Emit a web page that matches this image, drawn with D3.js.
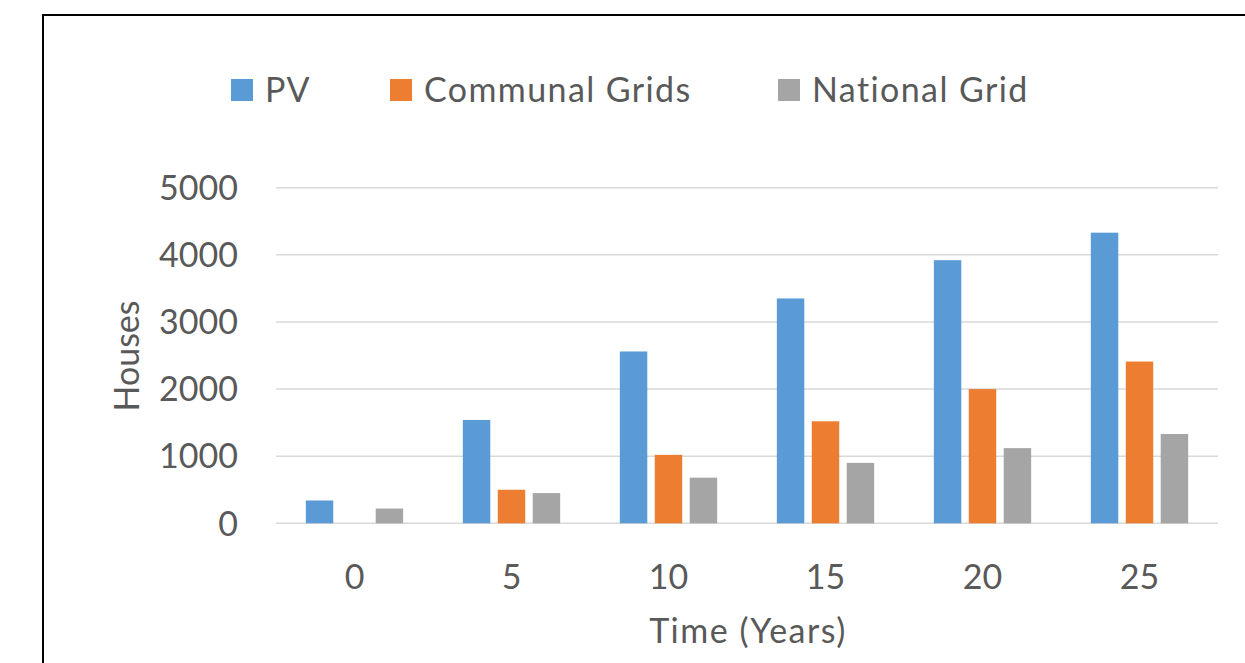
<!DOCTYPE html>
<html>
<head>
<meta charset="utf-8">
<script src="https://cdn.jsdelivr.net/npm/d3@7"></script>
<style>
  html, body { margin: 0; padding: 0; background: #fff; }
  svg { display: block; font-family: Lato, "Open Sans", sans-serif; }
</style>
</head>
<body>
<div id="chart"></div>
<script>
(function () {
    // Data
    const years = ["0", "5", "10", "15", "20", "25"];
    const seriesNames = ["PV", "Communal Grids", "National Grid"];
    const pvValues = [340, 1540, 2560, 3350, 3920, 4330];
    const communalValues = [0, 500, 1020, 1520, 2000, 2410];
    const nationalValues = [220, 450, 680, 900, 1120, 1330];
    const yTicks = [0, 1000, 2000, 3000, 4000, 5000];

    const colors = ["#5B9BD5", "#ED7D31", "#A5A5A5"];
    const textColor = "#595959";

    const width = 1245, height = 663;
    const plot = { left: 276, right: 1218, top: 187.7, bottom: 523.3 };

    const svg = d3.select("#chart").append("svg")
        .attr("width", width)
        .attr("height", height);

    // Chart frame (runs off the right and bottom of the picture)
    svg.append("rect")
        .attr("x", 43).attr("y", 15)
        .attr("width", 1300).attr("height", 800)
        .attr("fill", "#fff")
        .attr("stroke", "#000")
        .attr("stroke-width", 2);

    const x0 = d3.scaleBand()
        .domain(years)
        .range([plot.left, plot.right])
        .paddingInner(0.38)
        .paddingOuter(0.19);

    const x1 = d3.scaleBand()
        .domain(seriesNames)
        .range([0, x0.bandwidth()])
        .paddingInner(0.214);

    const y = d3.scaleLinear()
        .domain([0, 5000])
        .range([plot.bottom, plot.top]);

    // Gridlines
    svg.append("g")
        .selectAll("line")
        .data(yTicks)
        .enter()
        .append("line")
        .attr("x1", plot.left)
        .attr("x2", plot.right)
        .attr("y1", d => y(d))
        .attr("y2", d => y(d))
        .attr("stroke", "#D9D9D9")
        .attr("stroke-width", 1.5);

    // Y tick labels
    svg.append("g")
        .selectAll("text")
        .data(yTicks)
        .enter()
        .append("text")
        .attr("x", 238)
        .attr("y", d => y(d))
        .attr("dy", "0.36em")
        .attr("text-anchor", "end")
        .attr("font-size", 34)
        .attr("fill", textColor)
        .text(d => d);

    // Bars
    const table = years.map((yr, i) => ({
        year: yr,
        values: [pvValues[i], communalValues[i], nationalValues[i]]
    }));

    const groups = svg.append("g")
        .selectAll("g")
        .data(table)
        .enter()
        .append("g")
        .attr("transform", d => `translate(${x0(d.year)},0)`);

    groups.selectAll("rect")
        .data(d => d.values.map((v, k) => ({ name: seriesNames[k], value: v, k: k })))
        .enter()
        .filter(d => d.value > 0)
        .append("rect")
        .attr("x", d => x1(d.name))
        .attr("y", d => y(d.value))
        .attr("width", x1.bandwidth())
        .attr("height", d => y(0) - y(d.value))
        .attr("fill", d => colors[d.k]);

    // X tick labels
    svg.append("g")
        .selectAll("text")
        .data(years)
        .enter()
        .append("text")
        .attr("x", d => x0(d) + x0.bandwidth() / 2)
        .attr("y", 589)
        .attr("text-anchor", "middle")
        .attr("font-size", 34)
        .attr("fill", textColor)
        .text(d => d);

    // Axis titles
    svg.append("text")
        .attr("x", (plot.left + plot.right) / 2 + 1)
        .attr("y", 643)
        .attr("text-anchor", "middle")
        .attr("font-size", 34)
        .attr("letter-spacing", 1.5)
        .attr("fill", textColor)
        .text("Time (Years)");

    svg.append("text")
        .attr("transform", `translate(139,356) rotate(-90)`)
        .attr("text-anchor", "middle")
        .attr("font-size", 34)
        .attr("fill", textColor)
        .text("Houses");

    // Legend
    const legendX = [231, 390, 778];
    const legend = svg.append("g")
        .selectAll("g")
        .data(seriesNames)
        .enter()
        .append("g")
        .attr("transform", (d, i) => `translate(${legendX[i]},79)`);

    legend.append("rect")
        .attr("width", 22)
        .attr("height", 22)
        .attr("fill", (d, i) => colors[i]);

    legend.append("text")
        .attr("x", 34)
        .attr("y", 11)
        .attr("dy", "0.36em")
        .attr("font-size", 34)
        .attr("letter-spacing", 1.4)
        .attr("fill", textColor)
        .text(d => d);
})();
</script>
</body>
</html>
